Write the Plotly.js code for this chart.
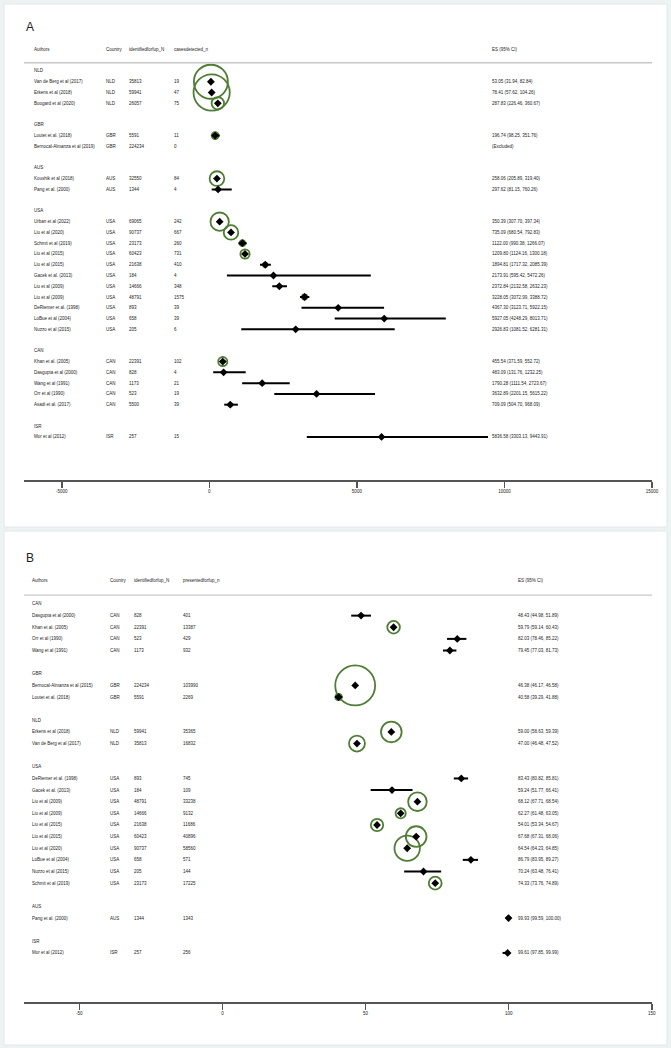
<!DOCTYPE html>
<html><head><meta charset="utf-8">
<script src="https://cdn.plot.ly/plotly-3.0.1.min.js"></script>
<style>html,body{margin:0;padding:0;background:#edf2f3;} #chart{width:671px;height:1048px;}</style>
</head><body><div id="chart"></div>
<script>
// ---------- Panel A: cases detected per 100,000 ----------
const aAuthors = ["Van de Berg et al (2017)","Erkens et al (2018)","Boogard et al (2020)",
  "Loutet et al. (2018)","Bernocal-Almanza et al (2019)",
  "Koushik et al (2018)","Pang et al. (2000)",
  "Urban et al (2022)","Liu et al (2020)","Schmit et al (2019)","Liu et al (2015)","Liu et al (2015)",
  "Gacek et al. (2013)","Liu et al (2009)","Liu et al (2009)","DeRiemer et al. (1998)","LoBue et al (2004)","Nuzzo et al (2015)",
  "Khan et al. (2005)","Dasgupta et al (2000)","Wang et al (1991)","Orr et al (1990)","Asadi et al. (2017)",
  "Mor et al (2012)"];
const aCountry = ["NLD","NLD","NLD","GBR","GBR","AUS","AUS",
  "USA","USA","USA","USA","USA","USA","USA","USA","USA","USA","USA",
  "CAN","CAN","CAN","CAN","CAN","ISR"];
const aN = [35813,59941,26057,5591,224234,32550,1344,69065,90737,23173,60423,21638,184,14666,48791,893,658,205,22391,828,1173,523,5500,257];
const aCases = [19,47,75,11,0,84,4,242,667,260,731,410,4,348,1575,39,39,6,102,4,21,19,39,15];
const aES = [53.05,78.41,287.83,196.74,null,258.06,297.62,350.39,735.09,1122.00,1209.80,1894.81,2173.91,2372.84,3228.05,4367.30,5927.05,2926.83,455.54,483.09,1790.28,3632.89,709.09,5836.58];
const aLo = [31.94,57.62,226.46,98.25,null,205.89,81.15,307.70,680.54,990.38,1124.16,1717.32,595.42,2132.58,3072.99,3123.71,4248.29,1081.52,371.59,131.76,1111.54,2201.15,504.70,3303.13];
const aHi = [82.84,104.26,360.67,351.76,null,319.40,760.26,397.34,792.83,1266.07,1300.18,2085.39,5472.26,2632.23,3388.72,5922.15,8013.71,6281.31,552.72,1232.25,2723.67,5615.22,968.09,9443.91];
const aWeight = [31.1,35.2,4.17,1.31,null,5.80,0.21,9.07,5.69,0.95,2.30,0.52,0.004,0.29,0.70,0.009,0.005,0.003,2.26,0.08,0.03,0.007,0.36,0.002];
const aTicks = [-5000,0,5000,10000,15000];

// ---------- Panel B: presented for follow-up (%) ----------
const bAuthors = ["Dasgupta et al (2000)","Khan et al. (2005)","Orr et al (1990)","Wang et al (1991)",
  "Bernocal-Almanza et al (2015)","Loutet et al. (2018)",
  "Erkens et al (2018)","Van de Berg et al (2017)",
  "DeRiemer et al. (1998)","Gacek et al. (2013)","Liu et al (2009)","Liu et al (2009)","Liu et al (2015)","Liu et al (2015)","Liu et al (2020)","LoBue et al (2004)","Nuzzo et al (2015)","Schmit et al (2019)",
  "Pang et al. (2000)","Mor et al (2012)"];
const bCountry = ["CAN","CAN","CAN","CAN","GBR","GBR","NLD","NLD",
  "USA","USA","USA","USA","USA","USA","USA","USA","USA","USA","AUS","ISR"];
const bN = [828,22391,523,1173,224234,5591,59941,35813,893,184,48791,14666,21638,60423,90737,658,205,23173,1344,257];
const bPresented = [401,13387,429,932,103990,2269,35365,16832,745,109,33238,9132,11686,40896,58560,571,144,17225,1343,256];
const bES = [48.43,59.79,82.03,79.45,46.38,40.58,59.00,47.00,83.43,59.24,68.12,62.27,54.01,67.68,64.54,86.79,70.24,74.33,99.93,99.61];
const bLo = [44.98,59.14,78.46,77.03,46.17,39.29,58.63,46.48,80.82,51.77,67.71,61.48,53.34,67.31,64.23,83.95,63.48,73.76,99.59,97.85];
const bHi = [51.89,60.43,85.22,81.73,46.58,41.88,59.39,47.52,85.81,66.41,68.54,63.05,54.67,68.06,64.85,89.27,76.41,74.89,100.00,99.99];
const bWeight = [0.135,3.65,0.085,0.19,36.55,0.91,9.77,5.84,0.146,0.03,7.95,2.39,3.53,9.85,14.79,0.107,0.033,3.78,0.22,0.042];
const bTicks = [-50,0,50,100,150];

// ---------- layout helpers ----------
const W = 671, H = 1048;
const FONT = "Liberation Sans, Arial, sans-serif";
const TXT = "#222";
const GREEN = "#4f7d33";
const px = v => v / W;
const py = v => 1 - v / H;

function rowsFor(country) {
  const rows = [], groups = [];
  let r = 0, prev = null;
  country.forEach((c) => {
    if (c !== prev) {
      if (prev !== null) r++;
      groups.push({name: c, row: r});
      r++; prev = c;
    }
    rows.push(r); r++;
  });
  return {rows, groups};
}

const traces = [], annotations = [], shapes = [];

function panel(cfg) {
  const {rows, groups} = rowsFor(cfg.country);
  const xa = cfg.ax === 1 ? "x" : "x2", ya = cfg.ax === 1 ? "y" : "y2";
  // weight circles
  const cx = [], cy = [], cs = [];
  cfg.es.forEach((v, i) => { if (v !== null && cfg.weight[i] !== null) { cx.push(v); cy.push(rows[i]); cs.push(cfg.k * Math.sqrt(cfg.weight[i])); } });
  traces.push({type: "scatter", mode: "markers", x: cx, y: cy, xaxis: xa, yaxis: ya, hoverinfo: "skip",
    marker: {symbol: "circle-open", size: cs, color: GREEN, opacity: 1, line: {color: GREEN, width: 1.8}}});
  // CI lines
  const lx = [], ly = [];
  cfg.es.forEach((v, i) => { if (v !== null) { lx.push(cfg.lo[i], cfg.hi[i], null); ly.push(rows[i], rows[i], null); } });
  traces.push({type: "scatter", mode: "lines", x: lx, y: ly, xaxis: xa, yaxis: ya, hoverinfo: "skip",
    line: {color: "#000", width: 2}});
  // point estimates
  const dx = [], dy = [];
  cfg.es.forEach((v, i) => { if (v !== null) { dx.push(v); dy.push(rows[i]); } });
  traces.push({type: "scatter", mode: "markers", x: dx, y: dy, xaxis: xa, yaxis: ya, hoverinfo: "skip",
    marker: {symbol: "diamond", size: 6, color: "#000", opacity: 1}});

  const t = (x, y, text) => annotations.push({xref: "paper", yref: ya, x: px(x), y: y, text: text,
    showarrow: false, xanchor: "left", yanchor: "middle", font: {family: FONT, size: 4.5, color: TXT}});
  // header
  t(cfg.cols[0], -2, "Authors"); t(cfg.cols[1], -2, "Country"); t(cfg.cols[2], -2, "identifiedforfup_N");
  t(cfg.cols[3], -2, cfg.nHeader); t(cfg.cols[4], -2, "ES (95% CI)");
  shapes.push({type: "line", xref: "paper", yref: ya, x0: px(24), x1: px(652), y0: -0.76, y1: -0.76,
    line: {color: "#c8c8c8", width: 1.4}});
  groups.forEach(g => t(cfg.cols[0], g.row, g.name));
  cfg.authors.forEach((a, i) => {
    t(cfg.cols[0], rows[i], a);
    t(cfg.cols[1], rows[i], cfg.country[i]);
    t(cfg.cols[2], rows[i], String(cfg.N[i]));
    t(cfg.cols[3], rows[i], String(cfg.n[i]));
    const es = cfg.es[i] === null ? "(Excluded)" :
      cfg.es[i].toFixed(2) + " (" + cfg.lo[i].toFixed(2) + ", " + cfg.hi[i].toFixed(2) + ")";
    t(cfg.cols[4], rows[i], es);
  });
  // panel letter
  annotations.push({xref: "paper", yref: "paper", x: px(24), y: py(cfg.letterY), text: cfg.letter, showarrow: false,
    xanchor: "left", yanchor: "middle", font: {family: FONT, size: 12, color: TXT}});
}

panel({ax: 1, authors: aAuthors, country: aCountry, N: aN, n: aCases, es: aES, lo: aLo, hi: aHi, weight: aWeight,
  k: 6.1, cols: [31.7, 104, 127, 172, 490], nHeader: "casesdetected_n", letter: "A", letterY: 27});
panel({ax: 2, authors: bAuthors, country: bCountry, N: bN, n: bPresented, es: bES, lo: bLo, hi: bHi, weight: bWeight,
  k: 6.6, cols: [30.3, 107.7, 132.3, 181, 515.7], nHeader: "presentedforfup_n", letter: "B", letterY: 558});

// panel backgrounds
shapes.unshift(
  {type: "rect", xref: "paper", yref: "paper", layer: "below", x0: px(4), x1: px(667), y0: py(527), y1: py(4),
    fillcolor: "#fff", line: {color: "#e2e8ea", width: 1}},
  {type: "rect", xref: "paper", yref: "paper", layer: "below", x0: px(4), x1: px(667), y0: py(1045), y1: py(531),
    fillcolor: "#fff", line: {color: "#e2e8ea", width: 1}}
);

const xCommon = {showgrid: false, zeroline: false, showline: true, linecolor: "#555", linewidth: 2,
  ticks: "outside", ticklen: 6, tickwidth: 1.5, tickcolor: "#555", domain: [px(24), px(652)],
  tickfont: {family: FONT, size: 4.5, color: TXT}, tickmode: "array", fixedrange: true};

const layout = {
  width: W, height: H, margin: {l: 0, r: 0, t: 0, b: 0},
  paper_bgcolor: "#edf2f3", plot_bgcolor: "rgba(0,0,0,0)", showlegend: false,
  xaxis: Object.assign({}, xCommon, {anchor: "y", range: [-6280, 15001], tickvals: aTicks, ticktext: aTicks.map(String)}),
  yaxis: {domain: [py(480), py(38.7)], range: [38, -3], visible: false, fixedrange: true},
  xaxis2: Object.assign({}, xCommon, {anchor: "y2", range: [-69.3, 150.05], tickvals: bTicks, ticktext: bTicks.map(String)}),
  yaxis2: {domain: [py(1002), py(569.1)], range: [34.22, -3], visible: false, fixedrange: true},
  annotations: annotations, shapes: shapes
};

Plotly.newPlot("chart", traces, layout, {staticPlot: true, displayModeBar: false});
</script>
</body></html>
